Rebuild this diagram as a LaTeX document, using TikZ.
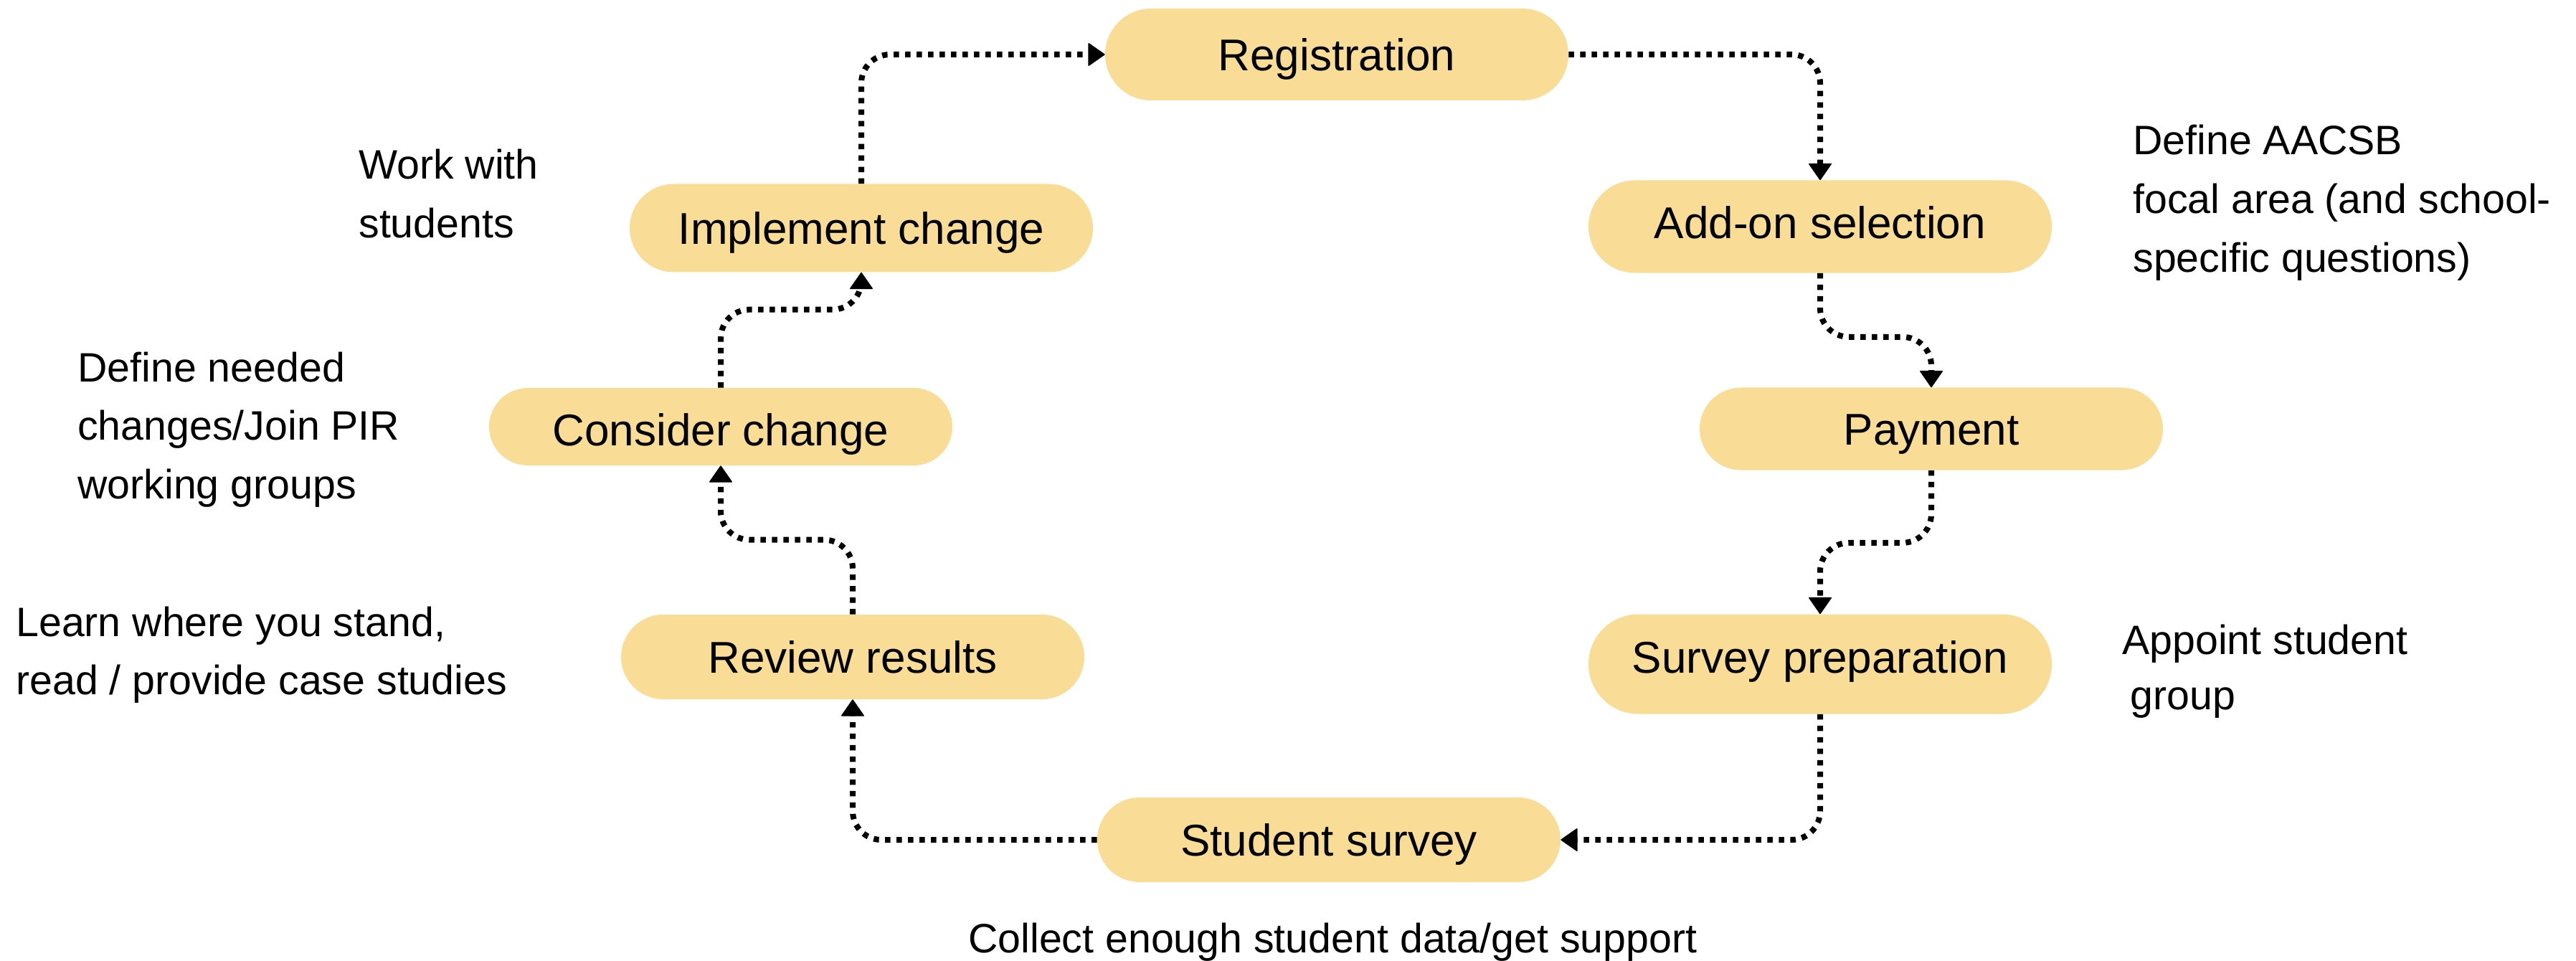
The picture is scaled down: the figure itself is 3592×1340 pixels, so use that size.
\documentclass[tikz,border=0pt]{standalone}
\usepackage{fontspec}
\setmainfont{Liberation Sans}
\usetikzlibrary{arrows.meta,shapes.misc}
\definecolor{boxfill}{RGB}{249,221,150}
\begin{document}
\begin{tikzpicture}[x=0.2mm,y=-0.2mm,
  stepbox/.style={rounded rectangle, fill=boxfill, draw=none, inner sep=0pt,
    minimum width=129.2mm, font=\fontsize{35.3pt}{42pt}\selectfont,
    text height=25.3pt, text depth=0pt},
  conn/.style={line width=1.6mm, dash pattern=on 1.5mm off 1.7mm, rounded corners=8mm,
    -{Triangle[width=6.6mm,length=4.8mm,line width=1pt,round]}},
  note/.style={anchor=base west, inner sep=0pt, font=\fontsize{32.6pt}{46.6pt}\selectfont}
]
\useasboundingbox (0,0) rectangle (3592,1340);

\node[stepbox, minimum height=25.6mm] (reg)  at (1864,76)   {Registration};
\node[stepbox, minimum height=25.8mm, text depth=2.4mm] (add)  at (2538,316)  {Add-on selection};
\node[stepbox, minimum height=23mm]   (pay)  at (2693,598)  {Payment};
\node[stepbox, minimum height=27.8mm, text depth=4mm] (sp)   at (2538,926)  {Survey preparation};
\node[stepbox, minimum height=23.6mm] (ss)   at (1853,1171) {Student survey};
\node[stepbox, minimum height=23.6mm] (rev)  at (1189,916)  {Review results};
\node[stepbox, minimum height=21.6mm, text height=29.8pt] (cons) at (1005,595)  {Consider change};
\node[stepbox, minimum height=24.6mm] (impl) at (1201,318)  {Implement change};

\draw[conn] (impl.north) |- (reg.west);
\draw[conn] (reg.east) -| (add.north);
\draw[conn] (add.south) -- ++(0,89) -| (pay.north);
\draw[conn] (pay.south) -- ++(0,101) -| (sp.north);
\draw[conn] (sp.south) |- (ss.east);
\draw[conn] (ss.west) -| (rev.south);
\draw[conn] (rev.north) -- ++(0,-104) -| (cons.south);
\draw[conn] (cons.north) -- ++(0,-109) -| (impl.south);

\node[note] (n1) at (500,250) {\begin{tabular}[t]{@{}l@{}}Work with\\students\end{tabular}};
\node[note] (n2) at (108,532) {\begin{tabular}[t]{@{}l@{}}Define needed\\changes/Join PIR\\working groups\end{tabular}};
\node[note] (n3) at (22,887) {\begin{tabular}[t]{@{}l@{}}Learn where you stand,\\read / provide case studies\end{tabular}};
\node[note] (n4) at (2974,216) {\begin{tabular}[t]{@{}l@{}}Define AACSB\\focal area (and school-\\specific questions)\end{tabular}};
\node[note] (n5) at (2959,912) {\begin{tabular}[t]{@{}l@{}}Appoint student\\[-0.8mm]\hspace*{2.2mm}group\end{tabular}};
\node[note] (n6) at (1350,1328) {Collect enough student data/get support};
\end{tikzpicture}
\end{document}
